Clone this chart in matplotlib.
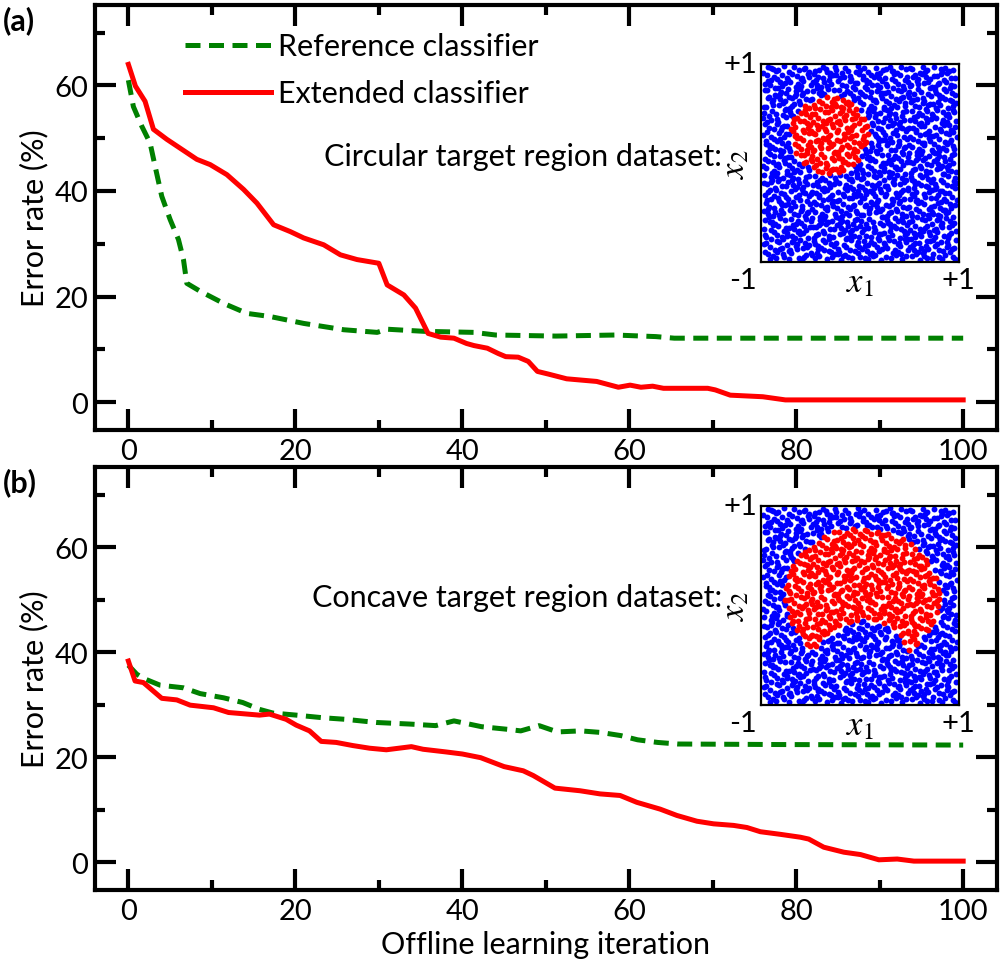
# Error rate vs offline learning iteration, two datasets with inset samples

import matplotlib.pyplot as plt
import numpy as np

plt.rcParams['font.family'] = ['Lato', 'DejaVu Sans']
plt.rcParams['mathtext.fontset'] = 'stix'

# panel (a): circular target region
a_ref_x = [0, 0.6, 1.6, 2.6, 3.2, 4, 5, 6, 6.6, 7, 8.6, 11.4, 14.2, 17, 21, 25.8, 29.8, 31,
           35.4, 41.4, 44, 51.2, 58.3, 63.2, 65.4, 100]
a_ref_y = [61, 56, 52.3, 49.1, 44.7, 39, 34.6, 30.8, 27, 22.5, 21, 18.7, 16.8, 16.2, 14.9, 13.7,
           13.2, 13.8, 13.4, 13.2, 12.7, 12.5, 12.7, 12.4, 12.1, 12.1]
a_ext_x = [0, 0.84, 2, 3, 4.6, 8.2, 9.8, 11.8, 13.8, 15.4, 17.4, 19.4, 21, 23.4, 25.4, 27.4, 30,
           31, 33, 34.4, 35.9, 37.4, 39, 40.5, 41.4, 43, 44.3, 45.2, 46.7, 47.9, 49, 50.3, 52.5,
           56.1, 58.7, 60.1, 61.4, 62.8, 64.1, 69.4, 70.3, 72.1, 76, 78.7, 100]
a_ext_y = [64, 59.9, 57, 51.7, 49.8, 46, 45, 43.1, 40.3, 37.7, 33.6, 32.3, 31.1, 29.8, 27.9, 27,
           26.3, 22.2, 20.3, 17.8, 13, 12.3, 12.1, 11.1, 10.7, 10.2, 9.2, 8.6, 8.5, 7.7, 5.8, 5.3,
           4.4, 3.9, 2.8, 3.2, 2.8, 3.0, 2.6, 2.6, 2.3, 1.3, 1.0, 0.4, 0.4]

# panel (b): concave target region
b_ref_x = [0, 1, 1.8, 3.8, 6.6, 8.6, 11.4, 13.7, 15.7, 17.3, 20.1, 23.3, 26, 29.7, 33.7, 36.8,
           39, 42.3, 45.4, 47, 49.2, 51.4, 54.2, 56.6, 59, 61, 63.4, 65.8, 77.8, 100]
b_ref_y = [37.5, 35.8, 35, 33.7, 33.2, 32.1, 31.3, 30.4, 29.1, 28.4, 28, 27.5, 27.2, 26.6, 26.3,
           26, 26.9, 25.8, 25.3, 25, 26, 24.8, 25, 24.7, 24.1, 23.3, 22.8, 22.5, 22.4, 22.3]
b_ext_x = [0, 0.8, 1.8, 4, 5.8, 7.4, 10.2, 12, 15.7, 16.9, 18.9, 20.1, 21.7, 23.1, 24.9, 26.9,
           28.9, 30.9, 33.9, 35.3, 38, 40, 42.2, 45, 47.3, 48.5, 51.1, 54.1, 56.5, 58.9, 60.9,
           63.7, 65.7, 68.1, 70.1, 72.5, 74.1, 75.7, 78.1, 80.5, 81.5, 83.3, 85.7, 87.7, 89.9,
           92.1, 94.1, 100]
b_ext_y = [38.3, 34.5, 34.2, 31.2, 30.9, 29.9, 29.4, 28.5, 28, 28.2, 27.2, 26.1, 25, 23, 22.8,
           22.2, 21.7, 21.4, 22, 21.5, 21, 20.6, 19.9, 18.2, 17.4, 16.5, 14.1, 13.6, 13, 12.7,
           11.4, 10.1, 8.9, 7.8, 7.3, 7.0, 6.6, 5.8, 5.3, 4.75, 4.4, 2.85, 1.9, 1.45, 0.45, 0.6,
           0.2, 0.2]

x_ticks = [0, 20, 40, 60, 80, 100]
y_ticks = [0, 20, 40, 60]

# target regions of the inset datasets
circle_c, circle_r = (-0.32, 0.29), 0.4
concave_c, concave_ax = (0.02, 0.1), (0.8, 0.7)
notch_c, notch_r = (0.03, -0.65), 0.5

n_samples = 1400

TICK_FS = 21
TEXT_FS = 22


def halton(n, base):
    # low discrepancy sequence, stands in for the unreadable sample positions
    out = np.zeros(n)
    for i in range(n):
        f, r, k = 1.0, 0.0, i + 1
        while k > 0:
            f /= base
            r += f * (k % base)
            k //= base
        out[i] = r
    return out


def style_axes(ax):
    ax.set_xlim(-4, 104)
    ax.set_ylim(-5.3, 75.3)
    ax.set_xticks(x_ticks)
    ax.set_xticks(np.arange(10, 100, 20), minor=True)
    ax.set_yticks(y_ticks)
    ax.set_yticks(np.arange(10, 80, 20), minor=True)
    ax.tick_params(which='both', direction='in', top=True, right=True, width=3,
                   labelsize=TICK_FS)
    ax.tick_params(which='major', length=15)
    ax.tick_params(which='minor', length=7.5)
    ax.tick_params(axis='x', pad=6)
    ax.tick_params(axis='y', pad=5)
    for sp in ax.spines.values():
        sp.set_linewidth(3)
    ax.set_ylabel('Error rate (%)', fontsize=TEXT_FS, labelpad=4)


def draw_inset(fig, rect, inside):
    ins = fig.add_axes(rect)
    px = halton(n_samples, 2) * 2 - 1
    py = halton(n_samples, 3) * 2 - 1
    mask = inside(px, py)
    ins.scatter(px[~mask], py[~mask], s=18, c='#0000ff', linewidths=0)
    ins.scatter(px[mask], py[mask], s=18, c='#ff0000', linewidths=0)
    ins.set_xlim(-1.02, 1.02)
    ins.set_ylim(-1.02, 1.02)
    ins.set_xticks([])
    ins.set_yticks([])
    for sp in ins.spines.values():
        sp.set_linewidth(1.6)
    kw = dict(transform=ins.transAxes, fontsize=TICK_FS)
    ins.text(-0.02, 1.0, '+1', ha='right', va='center', **kw)
    ins.text(-0.02, -0.09, '-1', ha='right', va='center', **kw)
    ins.text(1.0, -0.09, '+1', ha='center', va='center', **kw)
    ins.text(0.5, -0.1, r'$x_1$', ha='center', va='center', fontsize=25,
             transform=ins.transAxes)
    ins.text(-0.13, 0.5, r'$x_2$', ha='center', va='center', fontsize=25, rotation=90,
             transform=ins.transAxes)
    return ins


def in_circle(x, y):
    return (x - circle_c[0]) ** 2 + (y - circle_c[1]) ** 2 < circle_r ** 2


def in_concave(x, y):
    big = ((x - concave_c[0]) / concave_ax[0]) ** 2 + ((y - concave_c[1]) / concave_ax[1]) ** 2 < 1
    notch = (x - notch_c[0]) ** 2 + (y - notch_c[1]) ** 2 < notch_r ** 2
    return big & ~notch


def main():
    fig = plt.figure(figsize=(10.04, 9.62), dpi=100)
    ax_a = fig.add_axes([0.0946, 0.552, 0.898, 0.442])
    ax_b = fig.add_axes([0.0946, 0.0738, 0.898, 0.44])

    for ax, rx, ry, ex, ey in [(ax_a, a_ref_x, a_ref_y, a_ext_x, a_ext_y),
                               (ax_b, b_ref_x, b_ref_y, b_ext_x, b_ext_y)]:
        ax.plot(rx, ry, color='#008000', lw=3.6, dashes=(3, 1.7),
                label='Reference classifier')
        ax.plot(ex, ey, color='#ff0000', lw=3.6, label='Extended classifier')
        style_axes(ax)

    ax_a.legend(loc='upper left', bbox_to_anchor=(0.1, 0.935), frameon=False, fontsize=TEXT_FS,
                handlelength=2.8, handletextpad=0.25, labelspacing=0.62, borderpad=0,
                borderaxespad=0)

    ax_b.set_xlabel('Offline learning iteration', fontsize=TEXT_FS, labelpad=4)

    fig.text(0.003, 0.979, '(a)', fontsize=TEXT_FS, fontweight='bold', va='center')
    fig.text(0.003, 0.498, '(b)', fontsize=TEXT_FS, fontweight='bold', va='center')

    draw_inset(fig, [0.758, 0.7266, 0.197, 0.2058], in_circle)
    draw_inset(fig, [0.758, 0.2661, 0.197, 0.2069], in_concave)

    fig.text(0.719, 1 - 157 / 962, 'Circular target region dataset:', fontsize=TEXT_FS,
             ha='right', va='center')
    fig.text(0.719, 1 - 598 / 962, 'Concave target region dataset:', fontsize=TEXT_FS,
             ha='right', va='center')

    fig.savefig('out.png', dpi=100)


if __name__ == '__main__':
    main()
